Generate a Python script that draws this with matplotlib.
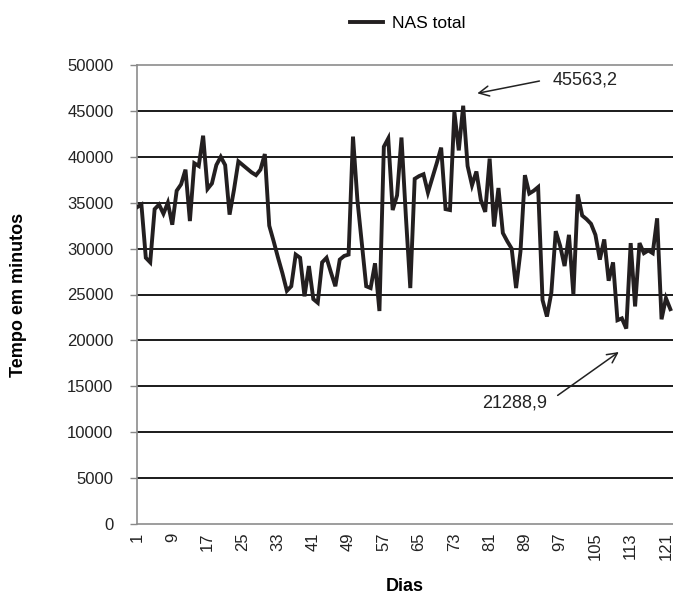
import matplotlib
matplotlib.use("Agg")
import matplotlib.pyplot as plt

plt.rcParams['font.family'] = ['Liberation Sans', 'DejaVu Sans']

days = list(range(1, 123))
nas_total = [
    34500, 34800, 29000, 28500, 34300, 34800, 33800, 35000, 32600, 36300,
    37000, 38600, 33000, 39300, 39000, 42300, 36500, 37100, 39100, 40000,
    39100, 33700, 36400, 39500, 39100, 38700, 38300, 38000, 38600, 40300,
    32500, 30800, 29000, 27300, 25400, 25900, 29350, 29000, 24800, 28100,
    24500, 24100, 28500, 29000, 27400, 25900, 28800, 29200, 29350, 42200,
    35300, 30600, 25900, 25700, 28400, 23200, 41100, 42000, 34200, 35800,
    42100, 33500, 25700, 37600, 37900, 38100, 36100, 37700, 39300, 41000,
    34300, 34200, 44900, 40700, 45563.2, 39000, 36900, 38400, 35300, 34000,
    39800, 32400, 36600, 31700, 30800, 30000, 25700, 29700, 38000, 36000,
    36300, 36700, 24400, 22600, 25200, 31900, 30300, 28100, 31500, 25000,
    35900, 33600, 33200, 32700, 31500, 28800, 31000, 26500, 28500, 22200,
    22400, 21288.9, 30600, 23700, 30600, 29500, 29800, 29500, 33300, 22300,
    24600, 23400,
]
xtick_days = list(range(1, 122, 8))
yticks = list(range(0, 50001, 5000))
series_name = "NAS total"
max_label = "45563,2"
min_label = "21288,9"

W, H = 673, 595
fig = plt.figure(figsize=(W / 100, H / 100), dpi=100)
ax = fig.add_axes([137 / W, 1 - 524 / H, (W - 137) / W, (524 - 65) / H])

line_color = '#231f20'
ax.plot(days, nas_total, color=line_color, lw=2.8, solid_joinstyle='miter',
        label=series_name, zorder=3)

ax.set_xlim(1, 122.6)
ax.set_ylim(0, 50000)
ax.set_yticks(yticks)
ax.set_yticklabels([str(v) for v in yticks], fontsize=12, color='#222222')
ax.set_xticks(xtick_days)
ax.set_xticklabels([str(d) for d in xtick_days], rotation=90, fontsize=12,
                   color='#222222')
ax.tick_params(axis='x', length=0, pad=6)
ax.tick_params(axis='y', length=5, color='#888888', width=1, pad=12)

for v in yticks[1:-1]:
    ax.axhline(v, color='#1a1a1a', lw=1.4, zorder=1)

for side in ['left', 'bottom', 'top']:
    ax.spines[side].set_color('#8c8c8c')
    ax.spines[side].set_linewidth(1.2)
ax.spines['right'].set_visible(False)

ax.set_ylabel('Tempo em minutos', fontsize=13, fontweight='bold')
ax.yaxis.set_label_coords(-0.205, 0.5)
ax.set_xlabel('Dias', fontsize=13, fontweight='bold')
ax.xaxis.set_label_coords(0.5, -0.117)

# annotations
imax = nas_total.index(max(nas_total))
imin = nas_total.index(min(nas_total))
ax.annotate(max_label, xy=(days[imax] + 3.2, max(nas_total) + 1350),
            xytext=(days[imax] + 20.4, max(nas_total) + 2800),
            fontsize=13, color='#222222', va='center', ha='left',
            arrowprops=dict(arrowstyle='->', color='#222222', lw=1.1,
                            shrinkA=8, shrinkB=0, mutation_scale=18,
                            relpos=(0.0, 0.6)))
ax.annotate(min_label, xy=(days[imin] - 1.7, min(nas_total) - 2550),
            xytext=(days[imin] - 18.0, min(nas_total) - 8110),
            fontsize=13, color='#222222', va='center', ha='right',
            arrowprops=dict(arrowstyle='->', color='#222222', lw=1.1,
                            shrinkA=7, shrinkB=0, mutation_scale=18,
                            relpos=(1.0, 0.5)))

handles, labels = ax.get_legend_handles_labels()
fig.legend(handles, labels, loc='center', bbox_to_anchor=(408 / W, 1 - 23 / H),
           frameon=False, fontsize=12.5, handlelength=1.9, handletextpad=0.5)

fig.savefig('out.png', dpi=100)
